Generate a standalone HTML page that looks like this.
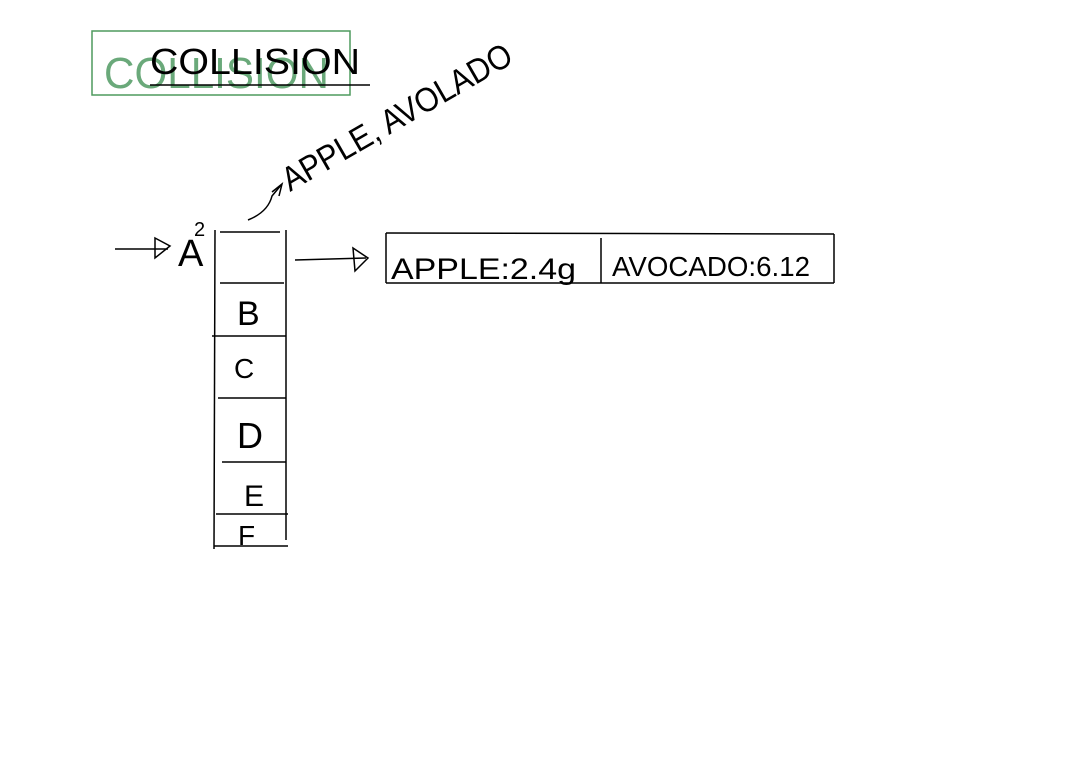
<!DOCTYPE html>
<html><head><meta charset="utf-8"><style>
html,body{margin:0;padding:0;background:#fff;}
svg{display:block;}
text{font-family:"Liberation Sans",sans-serif;}
</style></head><body>
<svg width="1080" height="780" viewBox="0 0 1080 780" xmlns="http://www.w3.org/2000/svg">
<rect width="1080" height="780" fill="#fff"/>
<!-- green box title -->
<rect x="92" y="31" width="258" height="64" fill="none" stroke="#4e9a5e" stroke-width="1.5"/>
<text x="104" y="88" font-size="44" fill="#6aa97a" textLength="225" lengthAdjust="spacingAndGlyphs" font-weight="300">COLLISION</text>
<text x="150" y="74" font-size="36" fill="#000" textLength="210" lengthAdjust="spacingAndGlyphs" font-weight="300">COLLISION</text>
<line x1="150" y1="85" x2="370" y2="85" stroke="#000" stroke-width="1.5"/>
<!-- rotated label -->
<text x="290" y="192" font-size="34" fill="#000" transform="rotate(-30 290 192)" textLength="260" lengthAdjust="spacingAndGlyphs" font-weight="300">APPLE, AVOLADO</text>
<path d="M248 220 Q268 212 272 196 L282 184" fill="none" stroke="#000" stroke-width="1.5"/>
<path d="M272 192 L282 184 L279 196" fill="none" stroke="#000" stroke-width="1.5"/>
<!-- left arrow -->
<line x1="115" y1="249" x2="168" y2="249" stroke="#000" stroke-width="1.5"/>
<path d="M155 238 L170 246 L155 258 Z" fill="none" stroke="#000" stroke-width="1.5"/>
<text x="178" y="266" font-size="38" fill="#000" font-weight="300">A</text>
<text x="194" y="236" font-size="20" fill="#000" font-weight="300">2</text>
<!-- column -->
<g stroke="#000" stroke-width="1.5">
<line x1="215" y1="230" x2="214" y2="549"/>
<line x1="286" y1="230" x2="286" y2="540"/>
<line x1="220" y1="232" x2="280" y2="232"/>
<line x1="220" y1="283" x2="284" y2="283"/>
<line x1="212" y1="336" x2="286" y2="336"/>
<line x1="218" y1="398" x2="286" y2="398"/>
<line x1="222" y1="462" x2="286" y2="462"/>
<line x1="216" y1="514" x2="288" y2="514"/>
<line x1="214" y1="546" x2="288" y2="546"/>
</g>
<text x="237" y="325" font-size="34" fill="#000" font-weight="300">B</text>
<text x="234" y="378" font-size="28" fill="#000" font-weight="300">C</text>
<text x="237" y="448" font-size="36" fill="#000" font-weight="300">D</text>
<text x="244" y="506" font-size="30" fill="#000" font-weight="300">E</text>
<text x="238" y="545" font-size="28" fill="#000" font-weight="300">F</text>
<!-- right arrow -->
<line x1="295" y1="260" x2="366" y2="258" stroke="#000" stroke-width="1.5"/>
<path d="M353 248 L368 258 L355 271 Z" fill="none" stroke="#000" stroke-width="1.5"/>
<!-- record box -->
<g stroke="#000" stroke-width="1.5" fill="none">
<line x1="386" y1="233" x2="834" y2="234"/>
<line x1="386" y1="283" x2="834" y2="283"/>
<line x1="386" y1="233" x2="386" y2="283"/>
<line x1="834" y1="234" x2="834" y2="283"/>
<line x1="601" y1="238" x2="601" y2="283"/>
</g>
<text x="391" y="279" font-size="30" fill="#000" textLength="185" lengthAdjust="spacingAndGlyphs" font-weight="300">APPLE:2.4g</text>
<text x="612" y="276" font-size="28" fill="#000" textLength="198" lengthAdjust="spacingAndGlyphs" font-weight="300">AVOCADO:6.12</text>
</svg>
</body></html>
